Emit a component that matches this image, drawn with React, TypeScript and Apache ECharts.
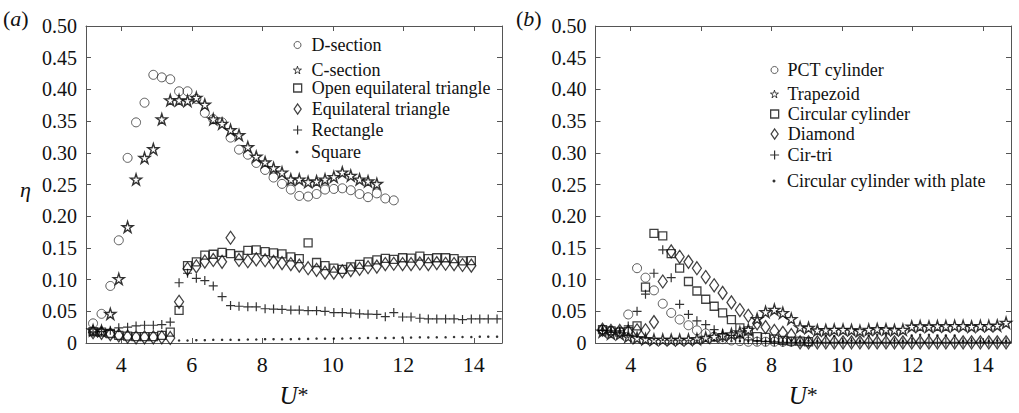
import React, { useEffect, useRef } from "react";
import * as echarts from "echarts";

// ---- data ----
const uGrid = [3.20, 3.44, 3.69, 3.93, 4.18, 4.42, 4.66, 4.91, 5.15, 5.39, 5.64, 5.88, 6.13, 6.37, 6.61, 6.86, 7.10, 7.34, 7.59, 7.83, 8.08, 8.32, 8.56, 8.81, 9.05, 9.30, 9.54, 9.78, 10.03, 10.27, 10.51, 10.76, 11.00, 11.25, 11.49, 11.73, 11.98, 12.22, 12.47, 12.71, 12.95, 13.20, 13.44, 13.68, 13.93, 14.17, 14.41, 14.66];
const xTicks = [4, 6, 8, 10, 12, 14];

// panel (a)
const dSection = [0.031, 0.046, 0.090, 0.162, 0.292, 0.348, 0.379, 0.423, 0.419, 0.416, 0.397, 0.397, 0.385, 0.363, 0.353, 0.348, 0.324, 0.305, 0.297, 0.284, 0.273, 0.261, 0.251, 0.242, 0.232, 0.231, 0.235, 0.242, 0.243, 0.244, 0.241, 0.235, 0.230, 0.236, 0.228, 0.225];
const cSection = [0.020, 0.019, 0.046, 0.101, 0.183, 0.258, 0.292, 0.306, 0.353, 0.383, 0.383, 0.382, 0.387, 0.376, 0.353, 0.346, 0.336, 0.328, 0.309, 0.294, 0.285, 0.276, 0.269, 0.258, 0.258, 0.254, 0.255, 0.258, 0.262, 0.269, 0.264, 0.258, 0.255, 0.251];
const openTriangle = [0.018, 0.017, 0.015, 0.012, 0.011, 0.010, 0.010, 0.010, 0.012, 0.017, 0.0515, 0.122, 0.128, 0.1385, 0.140, 0.143, 0.141, 0.138, 0.146, 0.147, 0.144, 0.142, 0.1405, 0.136, 0.133, 0.158, 0.127, 0.122, 0.118, 0.116, 0.120, 0.124, 0.128, 0.131, 0.1335, 0.132, 0.1345, 0.134, 0.137, 0.133, 0.1345, 0.1345, 0.133, 0.1295, 0.130];
const eqTriangle = [0.017, 0.016, 0.014, 0.012, 0.010, 0.009, 0.009, 0.009, 0.009, 0.008, 0.065, 0.117, 0.121, 0.1285, 0.131, 0.128, 0.166, 0.131, 0.129, 0.132, 0.1305, 0.128, 0.126, 0.1245, 0.122, 0.118, 0.1155, 0.111, 0.111, 0.113, 0.115, 0.117, 0.1195, 0.1205, 0.1245, 0.125, 0.1245, 0.1245, 0.1255, 0.1245, 0.126, 0.125, 0.1245, 0.123, 0.122];
const rectangle = [0.017, 0.018, 0.020, 0.024, 0.025, 0.027, 0.028, 0.028, 0.029, 0.033, 0.095, 0.110, 0.102, 0.0985, 0.090, 0.073, 0.059, 0.058, 0.057, 0.057, 0.054, 0.0535, 0.053, 0.052, 0.052, 0.051, 0.051, 0.050, 0.048, 0.048, 0.047, 0.046, 0.0455, 0.045, 0.0415, 0.048, 0.041, 0.041, 0.039, 0.038, 0.038, 0.038, 0.038, 0.037, 0.038, 0.038, 0.038, 0.038];
const squareA = [null, null, null, null, null, null, null, null, null, null, 0.004, 0.004, 0.0045, 0.0045, 0.005, 0.005, 0.005, 0.0048, 0.0055, 0.0055, 0.006, 0.006, 0.0058, 0.006, 0.0065, 0.0065, 0.007, 0.0068, 0.007, 0.007, 0.0075, 0.0075, 0.008, 0.0078, 0.008, 0.008, 0.0085, 0.0085, 0.009, 0.0088, 0.009, 0.009, 0.0095, 0.0095, 0.0093, 0.010, 0.010, 0.010];

// panel (b)
const pct = [0.021, 0.019, 0.018, 0.045, 0.118, 0.103, 0.083, 0.062, 0.0475, 0.037, 0.028, 0.020, 0.015, 0.010, 0.006, 0.004, 0.003, 0.002, 0.002, 0.002, 0.002, 0.002, 0.002];
const trapezoid = [0.018, 0.015, 0.014, 0.010, 0.008, 0.0063, 0.0053, 0.0053, 0.005, 0.005, 0.0053, 0.0063, 0.0083, 0.010, 0.012, 0.014, 0.017, 0.021, 0.038, 0.049, 0.0525, 0.0475, 0.038, 0.025, 0.024, 0.020, 0.0205, 0.021, 0.021, 0.0205, 0.019, 0.021, 0.022, 0.0215, 0.0205, 0.021, 0.026, 0.0265, 0.026, 0.0265, 0.0265, 0.027, 0.027, 0.026, 0.027, 0.027, 0.0275, 0.032];
const circular = [0.021, 0.019, 0.017, 0.018, 0.027, 0.088, 0.173, 0.169, 0.141, 0.118, 0.097, 0.082, 0.069, 0.058, 0.0475, 0.037, 0.024, 0.019, 0.010, 0.0088, 0.0063, 0.004, 0.003, 0.003, 0.002];
const diamondB = [0.021, 0.019, 0.019, 0.018, 0.020, 0.020, 0.033, 0.097, 0.1445, 0.136, 0.128, 0.118, 0.104, 0.091, 0.079, 0.064, 0.052, 0.043, 0.031, 0.025, 0.019, 0.016, 0.0124, 0.001, 0.001, 0.001, 0.001, 0.001, 0.001, 0.001, 0.001, 0.001, 0.001, 0.001, 0.001, 0.001, 0.001, 0.001, 0.001, 0.001, 0.001, 0.001, 0.001, 0.001, 0.001, 0.001, 0.001, 0.001];
const cirTri = [0.020, 0.019, 0.019, 0.027, 0.050, 0.077, 0.110, 0.147, 0.103, 0.061, 0.045, 0.035, 0.029, 0.021, 0.015, 0.012, 0.008, 0.005, 0.003, 0.002, 0.002, 0.001, 0.001, 0.001, 0.001, 0.001, 0.001, 0.001, 0.001, 0.001, 0.001, 0.001, 0.001, 0.001, 0.001, 0.001, 0.001, 0.001, 0.001, 0.001, 0.001, 0.001, 0.001, 0.001, 0.001, 0.001, 0.001, 0.001];
const plate = [0.019, 0.017, 0.016, 0.014, 0.010, 0.008, 0.006, 0.005, 0.004, 0.004, 0.004, 0.004, 0.004, 0.004, 0.003, 0.003, 0.003, 0.003, 0.003, 0.003, 0.003, 0.003, 0.004, 0.003, 0.004, 0.003, 0.012, 0.011, 0.003, 0.004, 0.003, 0.012, 0.013, 0.013, 0.004, 0.003, 0.012, 0.013, 0.013, 0.012, 0.012, 0.012, 0.003, 0.004, 0.003, 0.003, 0.004, 0.003];

// ---- styles ----
const FONT = '"Liberation Serif", "Times New Roman", Times, serif';
const AX = "#555";
const STAR = "path://M100,0L122.45,69.1L195.1,69.1L136.3,111.8L158.8,180.9L100,138.2L41.2,180.9L63.7,111.8L4.9,69.1L77.55,69.1Z";
const PLUS = "path://M5,0L5,10M0,5L10,5";

const ST: Record<string, any> = {
  circle: { symbol: "circle", size: 9, leg: [7, 7], item: { color: "transparent", borderColor: "#333", borderWidth: 1 } },
  star: { symbol: STAR, size: 11, leg: [8, 8], item: { color: "#fff", borderColor: "#000", borderWidth: 1.4 }, legItem: { color: "#fff", borderColor: "#000", borderWidth: 0.9 } },
  square: { symbol: "rect", size: 8, leg: [8, 8], item: { color: "transparent", borderColor: "#111", borderWidth: 1.3 } },
  diamond: { symbol: "diamond", size: [9, 13], leg: [7, 10], item: { color: "transparent", borderColor: "#111", borderWidth: 1.3 } },
  plus: { symbol: PLUS, size: 9, leg: [9, 9], item: { color: "transparent", borderColor: "#000", borderWidth: 1.2 } },
  dot: { symbol: "circle", size: 2.5, leg: [3, 3], item: { color: "#000" } },
};

const toPts = (ys: (number | null)[]) =>
  ys.map((y, i) => (y == null ? null : [uGrid[i], y])).filter((p) => p !== null);

const seriesDefs = [
  { name: "D-section", ys: dSection, st: "circle", g: 0, leg: [297, 45, 311] },
  { name: "C-section", ys: cSection, st: "star", g: 0, leg: [297, 70, 311] },
  { name: "Open equilateral triangle", ys: openTriangle, st: "square", g: 0, leg: [297, 88, 311] },
  { name: "Equilateral triangle", ys: eqTriangle, st: "diamond", g: 0, leg: [297, 109, 311] },
  { name: "Rectangle", ys: rectangle, st: "plus", g: 0, leg: [297, 130, 311] },
  { name: "Square", ys: squareA, st: "dot", g: 0, leg: [297, 152, 311] },
  { name: "PCT cylinder", ys: pct, st: "circle", g: 1, leg: [774, 70, 787] },
  { name: "Trapezoid", ys: trapezoid, st: "star", g: 1, leg: [774, 94, 787] },
  { name: "Circular cylinder", ys: circular, st: "square", g: 1, leg: [774, 114, 787] },
  { name: "Diamond", ys: diamondB, st: "diamond", g: 1, leg: [774, 134, 787] },
  { name: "Cir-tri", ys: cirTri, st: "plus", g: 1, leg: [774, 155, 787] },
  { name: "Circular cylinder with plate", ys: plate, st: "dot", g: 1, leg: [774, 181, 787] },
];

function xAxes(gi: number) {
  const common = {
    gridIndex: gi, type: "value", min: 3, max: 14.8,
    axisLine: { show: true, onZero: false, lineStyle: { color: AX, width: 1 } },
    axisTick: { show: true, inside: true, length: 5, customValues: xTicks, lineStyle: { color: AX } },
    splitLine: { show: false },
  };
  return [
    {
      ...common, position: "bottom",
      axisLabel: { customValues: xTicks, fontSize: 22, fontFamily: FONT, color: "#111", margin: 10 },
      name: "{i|U}{n|*}", nameLocation: "middle", nameGap: 40,
      nameTextStyle: { rich: { i: { fontFamily: FONT, fontStyle: "italic", fontSize: 25, color: "#111" }, n: { fontFamily: FONT, fontSize: 22, color: "#111", verticalAlign: "top" } } },
    },
    { ...common, position: "top", axisLabel: { show: false } },
  ];
}

function yAxes(gi: number) {
  const common = {
    gridIndex: gi, type: "value", min: 0, max: 0.5, interval: 0.05,
    axisLine: { show: true, onZero: false, lineStyle: { color: AX, width: 1 } },
    axisTick: { show: true, inside: true, length: 5, lineStyle: { color: AX } },
    splitLine: { show: false },
  };
  return [
    {
      ...common, position: "left",
      axisLabel: { fontSize: 20, fontFamily: FONT, color: "#111", margin: 9, formatter: (v: number) => (v === 0 ? "0" : v.toFixed(2)) },
    },
    { ...common, position: "right", axisLabel: { show: false } },
  ];
}

export default function App() {
  const ref = useRef<HTMLDivElement>(null);
  useEffect(() => {
    if (!ref.current) return;
    const chart = echarts.init(ref.current, null, { renderer: "svg" });
    const series = seriesDefs.map((d) => {
      const s = ST[d.st];
      return {
        type: "scatter", name: d.name, data: toPts(d.ys),
        xAxisIndex: d.g * 2, yAxisIndex: d.g * 2,
        symbol: s.symbol, symbolSize: s.size, itemStyle: s.item,
        emphasis: { disabled: true }, silent: true,
      };
    });
    const legends = seriesDefs.map((d) => {
      const s = ST[d.st];
      const [cx, cy, tx] = d.leg;
      const [w, h] = s.leg;
      return {
        data: [{ name: d.name, icon: s.symbol, itemStyle: s.legItem || s.item }],
        left: cx - w / 2, top: cy - 10, padding: 0,
        itemWidth: w, itemHeight: h, selectedMode: false,
        textStyle: { fontFamily: FONT, fontSize: 18, color: "#111", lineHeight: 20, padding: [0, 0, 0, Math.max(0, tx - (cx + w / 2 + 5))] },
      };
    });
    chart.setOption({
      animation: false,
      backgroundColor: "#fff",
      grid: [
        { left: 86, right: 517, top: 26, bottom: 55.5 },
        { left: 595.5, right: 8, top: 26, bottom: 55.5 },
      ],
      xAxis: [...xAxes(0), ...xAxes(1)],
      yAxis: [...yAxes(0), ...yAxes(1)],
      legend: legends,
      series,
      graphic: [
        { type: "text", left: 3, top: 7, style: { text: "({i|a})", font: `22px ${FONT}`, fill: "#111", rich: { i: { fontFamily: FONT, fontStyle: "italic", fontSize: 22, fill: "#111" } } } },
        { type: "text", left: 516, top: 7, style: { text: "({i|b})", font: `22px ${FONT}`, fill: "#111", rich: { i: { fontFamily: FONT, fontStyle: "italic", fontSize: 22, fill: "#111" } } } },
        { type: "text", left: 20, top: 178, style: { text: "η", font: `italic 22px ${FONT}`, fill: "#111" } },
      ],
    });
    return () => chart.dispose();
  }, []);
  return <div ref={ref} style={{ position: "fixed", left: 0, top: 0, width: 1019, height: 413 }} />;
}
